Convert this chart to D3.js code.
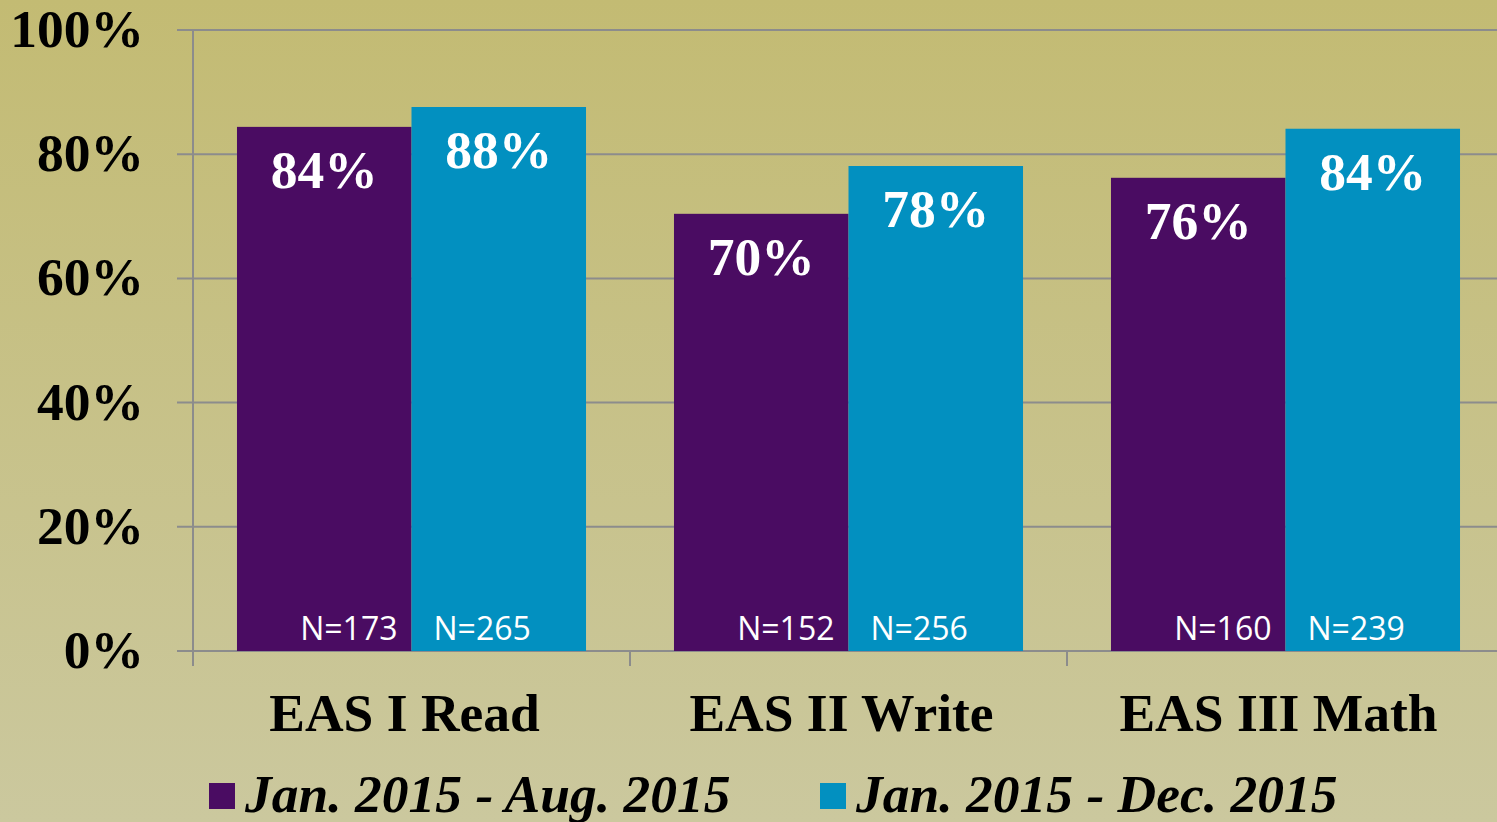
<!DOCTYPE html>
<html>

<head>
    <meta charset="utf-8">
    <title>EAS pass rates</title>
    <script src="https://d3js.org/d3.v7.min.js"></script>
    <style>
        body {
            margin: 0;
            overflow: hidden;
        }

        .serif {
            font-family: "Liberation Serif", "Times New Roman", serif;
            font-weight: bold;
            font-size: 53.5px;
        }

        .nlabel {
            font-family: "Open Sans", "Noto Sans", sans-serif;
            font-size: 32px;
            fill: #fff;
        }
    </style>
</head>

<body>
    <div id="chart"></div>

    <script>
        const categories = ["EAS I Read", "EAS II Write", "EAS III Math"];
        const seriesNames = ["Jan. 2015 - Aug. 2015", "Jan. 2015 - Dec. 2015"];
        const seriesColors = ["#4a0c62", "#0290c0"];
        // percent values per series, in category order
        const augValues = [84.4, 70.4, 76.2];
        const decValues = [87.6, 78.1, 84.1];
        const augN = [173, 152, 160];
        const decN = [265, 256, 239];
        const yTicks = [0, 20, 40, 60, 80, 100];

        const W = 1497, H = 822;

        const svg = d3.select("#chart")
            .append("svg")
            .attr("width", W)
            .attr("height", H);

        // background gradient
        const grad = svg.append("defs").append("linearGradient")
            .attr("id", "bg")
            .attr("x1", 0).attr("y1", 0).attr("x2", 0).attr("y2", 1);
        grad.append("stop").attr("offset", "0%").attr("stop-color", "#c3bb73");
        grad.append("stop").attr("offset", "100%").attr("stop-color", "#cbc89e");
        svg.append("rect").attr("width", W).attr("height", H).attr("fill", "url(#bg)");

        const y = d3.scaleLinear().domain([0, 100]).range([651, 30]);

        const x0 = d3.scaleBand()
            .domain(categories)
            .range([193, 193 + 437 * 3]);

        const x1 = d3.scaleBand()
            .domain([0, 1])
            .range([0, x0.bandwidth()])
            .paddingOuter(0.252);

        // gridlines + left ticks
        svg.append("g")
            .selectAll("line")
            .data(yTicks)
            .join("line")
            .attr("x1", 177)
            .attr("x2", W)
            .attr("y1", d => y(d))
            .attr("y2", d => y(d))
            .attr("stroke", "#8c8c8c")
            .attr("stroke-width", 2);

        svg.append("g")
            .selectAll("text")
            .data(yTicks)
            .join("text")
            .attr("class", "serif")
            .attr("x", 144)
            .attr("y", d => y(d) + 17)
            .attr("text-anchor", "end")
            .attr("fill", "#000")
            .text(d => d + "%");

        // vertical axis line
        svg.append("line")
            .attr("x1", 193).attr("x2", 193)
            .attr("y1", y(100)).attr("y2", y(0) + 15)
            .attr("stroke", "#8c8c8c")
            .attr("stroke-width", 2);

        // category tick marks
        svg.append("g")
            .selectAll("line")
            .data(categories)
            .join("line")
            .attr("x1", d => x0(d))
            .attr("x2", d => x0(d))
            .attr("y1", y(0))
            .attr("y2", y(0) + 15)
            .attr("stroke", "#8c8c8c")
            .attr("stroke-width", 2);

        const rows = categories.map((c, i) => ({
            cat: c,
            vals: [augValues[i], decValues[i]],
            ns: [augN[i], decN[i]]
        }));

        const groups = svg.append("g")
            .selectAll("g")
            .data(rows)
            .join("g")
            .attr("transform", d => `translate(${x0(d.cat)},0)`);

        groups.selectAll("rect")
            .data(d => d.vals.map((v, s) => ({ v, s })))
            .join("rect")
            .attr("x", d => x1(d.s))
            .attr("y", d => y(d.v))
            .attr("width", x1.bandwidth())
            .attr("height", d => y(0) - y(d.v))
            .attr("fill", d => seriesColors[d.s]);

        // value labels
        groups.selectAll("text.val")
            .data(d => d.vals.map((v, s) => ({ v, s })))
            .join("text")
            .attr("class", "val serif")
            .attr("x", d => x1(d.s) + x1.bandwidth() / 2)
            .attr("y", d => y(d.v) + 61)
            .attr("text-anchor", "middle")
            .attr("fill", "#fff")
            .text(d => Math.round(d.v) + "%");

        // N labels
        groups.selectAll("text.nlabel")
            .data(d => d.ns.map((n, s) => ({ n, s })))
            .join("text")
            .attr("class", "nlabel")
            .attr("x", d => d.s === 0 ? x1(0) + x1.bandwidth() - 14 : x1(1) + 22)
            .attr("y", 640)
            .attr("text-anchor", d => d.s === 0 ? "end" : "start")
            .text(d => "N=" + d.n);

        // category labels
        svg.append("g")
            .selectAll("text")
            .data(categories)
            .join("text")
            .attr("class", "serif")
            .attr("x", d => x0(d) + x0.bandwidth() / 2 - 7)
            .attr("y", 731)
            .attr("text-anchor", "middle")
            .attr("fill", "#000")
            .text(d => d);

        // legend
        const legendX = [209, 820];
        const legend = svg.append("g")
            .selectAll("g")
            .data(seriesNames)
            .join("g")
            .attr("transform", (d, i) => `translate(${legendX[i]},0)`);

        legend.append("rect")
            .attr("x", 0)
            .attr("y", 783)
            .attr("width", 26)
            .attr("height", 26)
            .attr("fill", (d, i) => seriesColors[i]);

        legend.append("text")
            .attr("class", "serif")
            .attr("x", 36)
            .attr("y", 812)
            .style("font-style", "italic")
            .attr("fill", "#000")
            .text(d => d);
    </script>
</body>

</html>
